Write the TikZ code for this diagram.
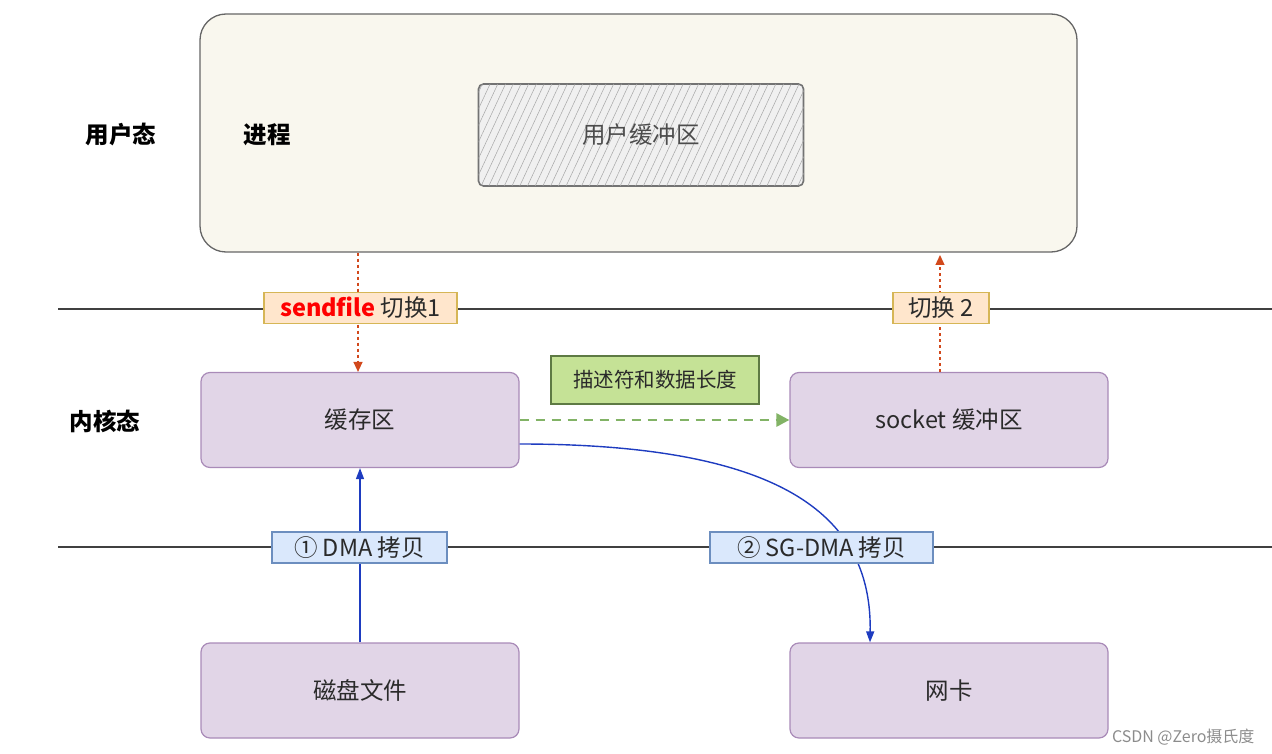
\documentclass[tikz,border=0pt]{standalone}
\usepackage{fontspec}
\setmainfont{Noto Sans CJK SC}
\usetikzlibrary{arrows.meta,patterns.meta,decorations.pathmorphing}
\definecolor{beige}{HTML}{F9F7EE}
\definecolor{purfill}{HTML}{E1D5E7}
\definecolor{purdraw}{HTML}{A98BB8}
\definecolor{orfill}{HTML}{FFE6CC}
\definecolor{ordraw}{HTML}{D6B656}
\definecolor{blfill}{HTML}{DAE8FC}
\definecolor{bldraw}{HTML}{6C8EBF}
\definecolor{grfill}{HTML}{C5E296}
\definecolor{grdraw}{HTML}{5E7A44}
\definecolor{grarrow}{HTML}{82B366}
\definecolor{redarrow}{HTML}{D2491C}
\definecolor{bluearrow}{HTML}{1E3CC0}
\definecolor{txt}{HTML}{2A2A2A}
\tikzset{
  x=1pt,y=-1pt,
  every node/.style={font=\fontsize{23.5}{27}\selectfont, text=txt},
  kbox/.style={draw=purdraw, fill=purfill, line width=1.2pt, rounded corners=9pt,
    minimum width=318pt, minimum height=95pt, inner sep=0pt},
  tag/.style={line width=1.2pt, inner sep=0pt, minimum height=31pt},
  orangetag/.style={tag, draw=ordraw, fill=orfill},
  bluetag/.style={tag, draw=bldraw, fill=blfill},
  sepline/.style={draw=black!75, line width=1.2pt},
  reddot/.style={draw=redarrow, line width=1.3pt, dash pattern=on 3pt off 3pt, -{Triangle[length=10pt,width=9pt]}},
  bluearr/.style={draw=bluearrow, line width=1.4pt, -{Triangle[length=11pt,width=8pt]}},
  greenarr/.style={draw=grarrow, line width=2.8pt, dash pattern=on 9pt off 7pt, -{Triangle[length=13pt,width=13pt]}},
  lbl/.style={font=\fontsize{23.5}{27}\selectfont\bfseries, text=black},
}
\begin{document}
\begin{tikzpicture}
\useasboundingbox (0,0) rectangle (1272,754);
% user space box
\node[draw=black!60, fill=beige, line width=1.3pt, rounded corners=26pt,
  minimum width=877pt, minimum height=238pt, inner sep=0pt] (proc) at (638.5,133) {};
\node[draw=black!55, line width=1.6pt, rounded corners=5pt,
  fill=black!6, minimum width=325pt, minimum height=102pt, inner sep=0pt,
  postaction={pattern={Lines[angle=65,distance=7pt,line width=0.5pt]}, pattern color=black!35}] (ubuf) at (641,135) {};
\node[text=black!70] (ubuft) at (ubuf.center) {用户缓冲区};
\node[lbl] (proct) at (267,135) {进程};
\node[lbl] (user) at (121,135) {用户态};
\node[lbl] (kernel) at (105,421) {内核态};

% separator lines
\coordinate (l1a) at (58,309); \coordinate (l1b) at (1272,309);
\coordinate (l2a) at (58,547); \coordinate (l2b) at (1272,547);
\draw[sepline] (l1a) -- (l1b);
\draw[sepline] (l2a) -- (l2b);

% kernel boxes
\node[kbox] (cache) at (360,420) {缓存区};
\node[kbox] (sock) at (949,420) {socket 缓冲区};
\node[kbox] (disk) at (360,690.5) {磁盘文件};
\node[kbox] (nic) at (949,690.5) {网卡};

% arrows
\draw[reddot] (proc.south -| cache.north) ++(-2,0) coordinate (r1s) -- (cache.north -| r1s);
\coordinate (r2e) at (940,255);
\draw[reddot] (sock.north -| r2e) -- (r2e);
\draw[greenarr] (cache.east) -- (sock.west);
\draw[bluearr] (disk.north) -- (cache.south);
\draw[bluearr] (cache.east) ++(0,24) coordinate (bs) .. controls (790,444) and (872,520) .. (nic.north -| 870,0);

% tags
\node[orangetag, minimum width=193pt] (t1) at (360.5,308) {\textcolor{red}{\bfseries sendfile} 切换1};
\node[orangetag, minimum width=96pt] (t2) at (941,308) {切换 2};
\node[bluetag, minimum width=175pt] (t3) at (359.5,547.5) {① DMA 拷贝};
\node[bluetag, minimum width=223pt] (t4) at (821.5,547.5) {② SG-DMA 拷贝};
\node[draw=grdraw, fill=grfill, line width=1.2pt, minimum width=208pt, minimum height=48pt,
  inner sep=0pt, font=\fontsize{20.5}{24}\selectfont] (desc) at (655,380) {描述符和数据长度};

% watermark
\node[text=black!45, font=\fontsize{16}{18}\selectfont, anchor=east] (wm) at (1258,737) {CSDN @Zero摄氏度};
\end{tikzpicture}
\end{document}
